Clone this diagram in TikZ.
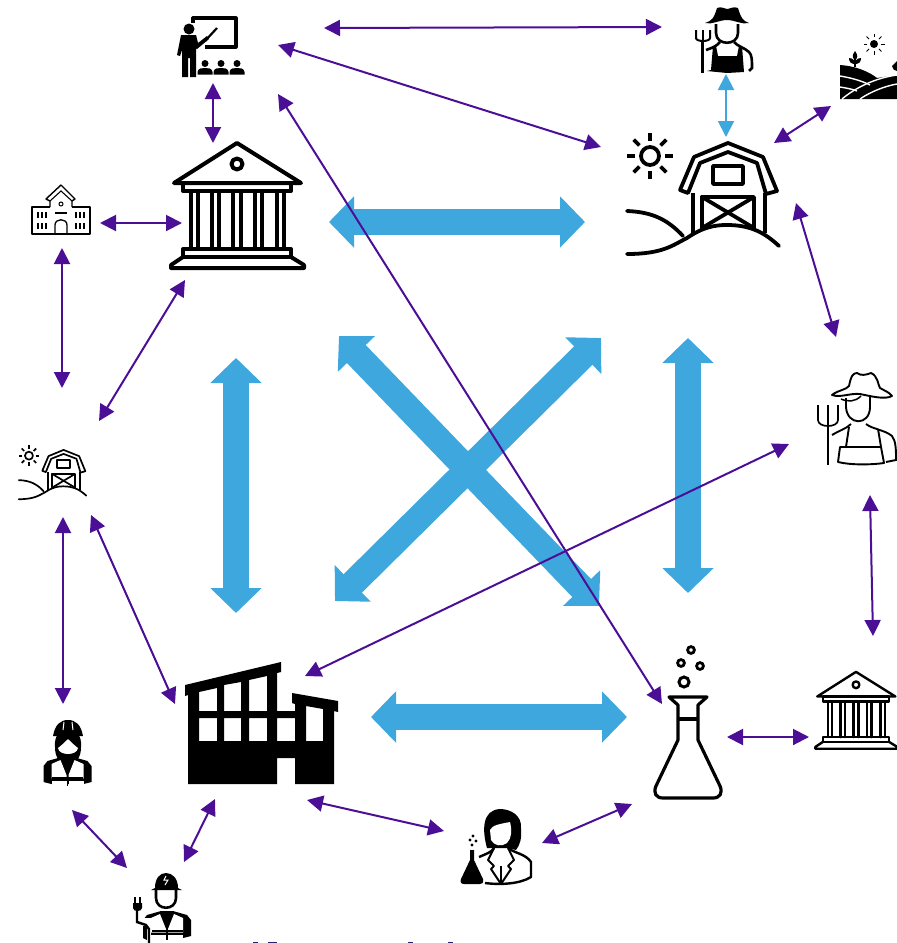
\documentclass[tikz,border=0pt]{standalone}
\usetikzlibrary{arrows.meta,calc}

\definecolor{linkpurple}{HTML}{4B0F96}
\definecolor{linkblue}{HTML}{3EA8DE}
\definecolor{cutnavy}{HTML}{23206E}

\tikzset{
    biglink/.style = {{Triangle[length=25pt,width=50pt]}-{Triangle[length=25pt,width=50pt]}, draw = linkblue, line width = 26pt},
    thinlink/.style = {{Triangle[length=16pt,width=16pt]}-{Triangle[length=16pt,width=16pt]}, draw = linkpurple, line width = 2pt},
    icon/.style = {line join = round, line cap = round},
    pics/temple/.style = {code = {
        \draw[icon] (0,-62) -- (-63,-22) -- (64,-22) -- cycle;
        \draw[icon] (0,-41) circle[radius=5.5];
        \draw[icon] (-54,-22) rectangle (54,-14);
        \foreach \colx in {-46,-39,-25,-18,-4,4,18,25,40,47} {
            \draw[icon] (\colx,-14) -- (\colx,44);
        }
        \draw[icon] (-54,44) rectangle (54,52);
        \draw[icon] (-54,52) -- (-66,60) -- (-66,63) -- (67,63) -- (67,60) -- (54,52);
    }},
    pics/barn/.style = {code = {
        \draw[icon] (-53,-39) circle[radius=9];
        \foreach \rayang in {0,45,...,315} {
            \draw ($(-53,-39)+(\rayang:15)$) -- ($(-53,-39)+(\rayang:23)$);
        }
        \draw[icon] (-23,-5) -- (-9,-38) -- (25,-52) -- (60,-38) -- (74,-4) -- (63,-1) -- (54,-32) -- (25,-43) -- (-3,-32) -- (-15,-2) -- cycle;
        \draw (-10,-2) -- (-10,38);
        \draw (62,-2) -- (62,38);
        \draw[icon] (10,-29) rectangle (40,-11);
        \draw[icon] (-1,2) -- (51,2) -- (51,33);
        \draw[icon] (-1,2) -- (-1,33);
        \draw (-1,2) -- (51,33);
        \draw (51,2) -- (-1,33);
        \draw[icon] (-76,59) .. controls (-40,59) and (-30,50) .. (-16,43) .. controls (0,32) and (12,30) .. (24,30) .. controls (48,30) and (62,38) .. (76,51);
        \draw[icon] (-76,16) .. controls (-50,17) and (-35,25) .. (-20,41);
    }},
    pics/vest/.style = {code = {
        \fill[black] (-6,0) -- (-20,4) -- (-24,9) -- (-24,25) -- (-16,27) -- (16,27) -- (24,25) -- (24,9) -- (20,4) -- (6,0) -- cycle;
        \fill[white] (-16,7) -- (-7,3) -- (-1,18) -- (-1,21.5) -- (-16,21.5) -- cycle;
        \fill[white] (16,7) -- (7,3) -- (1,18) -- (1,21.5) -- (16,21.5) -- cycle;
        \fill[white] (-16,23.5) rectangle (-1,28.5);
        \fill[white] (1,23.5) rectangle (16,28.5);
    }},
}

\begin{document}
\begin{tikzpicture}[x=1pt,y=-1pt]

    \useasboundingbox (0,0) rectangle (897,943);

    % big arrows
    \coordinate (cityE) at (329,222);
    \coordinate (barnW) at (585,222);
    \coordinate (cityS) at (236,358);
    \coordinate (factN) at (236,613);
    \coordinate (barnS) at (688,338);
    \coordinate (labN) at (688,593);
    \coordinate (factE) at (371,717);
    \coordinate (labW) at (627,717);
    \coordinate (crossNW) at (339,336);
    \coordinate (crossSE) at (599,606);
    \coordinate (crossNE) at (601,338);
    \coordinate (crossSW) at (335,601);

    \draw[biglink] (cityE) to (barnW);
    \draw[biglink] (cityS) to (factN);
    \draw[biglink] (barnS) to (labN);
    \draw[biglink] (factE) to (labW);
    \draw[biglink] (crossNW) to (crossSE);
    \draw[biglink] (crossNE) to (crossSW);

    % thin arrows
    \coordinate (teachE) at (324,28);
    \coordinate (darkfarmW) at (662,27);
    \coordinate (teachR) at (278,45);
    \coordinate (barnNW) at (601,147);
    \coordinate (teachSE) at (278,94);
    \coordinate (labNW) at (662,704);
    \coordinate (teachS) at (213,83);
    \coordinate (cityN) at (213,143);
    \coordinate (schoolE) at (100,223);
    \coordinate (cityW) at (182,223);
    \coordinate (schoolS) at (62,248);
    \coordinate (minibarnN) at (62,388);
    \coordinate (citySW) at (185,280);
    \coordinate (minibarnNE) at (99,421);
    \coordinate (minibarnS) at (63,517);
    \coordinate (womanN) at (63,704);
    \coordinate (minibarnSE) at (91,515);
    \coordinate (factW) at (175,704);
    \coordinate (womanS) at (72,810);
    \coordinate (plugW) at (127,868);
    \coordinate (factS) at (215,799);
    \coordinate (plugN) at (184,862);
    \coordinate (factSE) at (307,800);
    \coordinate (chemW) at (444,831);
    \coordinate (chemE) at (542,843);
    \coordinate (labSW) at (632,804);
    \coordinate (labE) at (727,737);
    \coordinate (minicityW) at (809,737);
    \coordinate (farmS) at (870,495);
    \coordinate (minicityN) at (873,636);
    \coordinate (farmW) at (789,444);
    \coordinate (factNE) at (305,676);
    \coordinate (barnE) at (796,203);
    \coordinate (farmN) at (836,337);
    \coordinate (fieldS) at (831,106);
    \coordinate (barnNE) at (774,143);
    \coordinate (darkfarmS) at (726,74);
    \coordinate (barnN) at (726,137);

    \draw[thinlink] (teachE) to (darkfarmW);
    \draw[thinlink] (teachR) to (barnNW);
    \draw[thinlink] (teachSE) to (labNW);
    \draw[thinlink] (teachS) to (cityN);
    \draw[thinlink] (schoolE) to (cityW);
    \draw[thinlink] (schoolS) to (minibarnN);
    \draw[thinlink] (citySW) to (minibarnNE);
    \draw[thinlink] (minibarnS) to (womanN);
    \draw[thinlink] (minibarnSE) to (factW);
    \draw[thinlink] (womanS) to (plugW);
    \draw[thinlink] (factS) to (plugN);
    \draw[thinlink] (factSE) to (chemW);
    \draw[thinlink] (chemE) to (labSW);
    \draw[thinlink] (labE) to (minicityW);
    \draw[thinlink] (farmS) to (minicityN);
    \draw[thinlink] (farmW) to (factNE);
    \draw[thinlink] (barnE) to (farmN);
    \draw[thinlink] (fieldS) to (barnNE);
    \draw[thinlink, draw = linkblue] (darkfarmS) to (barnN);

    % repeated icons
    \pic[line width = 4pt] (city) at (237,205) {temple};
    \pic[line width = 2.4pt, scale = .615] (minicity) at (856,710) {temple};
    \pic[line width = 3.8pt] (bigbarn) at (703,195) {barn};
    \pic[line width = 1.7pt, scale = .444] (minibarn) at (52.5,473) {barn};

    % teacher
    \draw[line width = 3.2pt, line join = round] (193,23) -- (193,18) -- (236,18) -- (236,47) -- (205,47);
    \fill (189,29) circle[radius=5.5];
    \fill (181,35) -- (196,35) -- (198,43) -- (207,36) -- (209,39) -- (197,49) -- (196,48) -- (196,77) -- (190,77) -- (190,58) -- (188,58) -- (188,77) -- (182,77) -- (182,50) -- (180,56) -- (177,55) -- cycle;
    \draw[line width = 2.2pt] (205,41) -- (217,28);
    \foreach \seatx in {205,221,237} {
        \fill (\seatx,63.5) circle[radius=3.5];
        \fill (\seatx-7.5,74.5) -- (\seatx-7.5,72) .. controls (\seatx-7,68) and (\seatx-3,68) .. (\seatx,68) .. controls (\seatx+3,68) and (\seatx+7,68) .. (\seatx+7.5,72) -- (\seatx+7.5,74.5) -- cycle;
    }

    % school
    \draw[line width = 1.4pt, line join = round] (50,207) -- (32,207) -- (32,234) -- (90,234) -- (90,207) -- (72,207);
    \draw[line width = 1.4pt, line join = round] (50,207) -- (50,201) -- (46,199) -- (61,185) -- (75,199) -- (72,201) -- (72,207);
    \draw[line width = 1.1pt] (50,201) -- (61,191) -- (72,201);
    \draw[line width = 1pt] (61,204) circle[radius=2];
    \draw[line width = 1.3pt] (55,213) -- (67,213);
    \draw[line width = 1.3pt] (55,234) -- (55,225) .. controls (55,218) and (67,218) .. (67,225) -- (67,234);
    \foreach \winx in {38,42,46,76,80,84} {
        \draw[line width = 1.1pt] (\winx,212) -- (\winx,218);
        \draw[line width = 1.1pt] (\winx,223) -- (\winx,229);
    }

    % farmer with dark hat
    \fill (705,23) .. controls (712,21) and (714,18) .. (717,8) .. controls (722,6) and (724,9) .. (727,9) .. controls (730,9) and (733,6) .. (738,8) .. controls (741,18) and (743,21) .. (749,23) .. controls (742,25) and (735,20) .. (727,20) .. controls (719,20) and (712,25) .. (705,23) -- cycle;
    \draw[line width = 2.6pt] (716,24) -- (716,33) .. controls (716,46) and (738,46) .. (738,33) -- (738,24);
    \draw[line width = 2.6pt] (706,50) .. controls (712,48) and (717,46) .. (720,42);
    \draw[line width = 2.6pt] (734,42) .. controls (737,46) and (745,48) .. (749,52) .. controls (752,55) and (752,60) .. (752,68) -- (749,71);
    \fill (713,46) -- (716,46) -- (718,56) -- (737,56) -- (739,46) -- (742,46) -- (744,72) -- (727,73) -- (707,71) -- (711,70) -- cycle;
    \draw[line width = 2.4pt] (702.5,40) -- (702.5,73);
    \draw[line width = 2pt] (696,30) -- (696,38) .. controls (696,42) and (710,42) .. (710,38) -- (710,30);
    \draw[line width = 2pt] (703,30) -- (703,41);

    % field
    \fill (874,44) circle[radius=4];
    \foreach \rayang in {0,45,...,315} {
        \draw[line width = 1pt] ($(874,44)+(\rayang:7)$) -- ($(874,44)+(\rayang:10.5)$);
    }
    \fill (840,65) .. controls (855,66) and (868,71) .. (877,78) -- (897,75) -- (897,99) -- (840,99) -- cycle;
    \draw[white, line width = 1.4pt] (840,76) .. controls (852,78) and (862,81) .. (870,85);
    \draw[white, line width = 1.4pt] (840,87) .. controls (846,88) and (852,89) .. (857,91);
    \draw[white, line width = 1.4pt] (842,99) .. controls (855,88) and (875,78) .. (897,75);
    \draw[white, line width = 1.4pt] (860,99) .. controls (870,92) and (885,86) .. (897,84);
    \draw[line width = 1.2pt] (855,67) -- (855,57);
    \fill (855,51) .. controls (858,55) and (858,58) .. (855,60) .. controls (852,58) and (852,55) .. (855,51) -- cycle;
    \fill (849,58) .. controls (854,58) and (855,62) .. (855,64) .. controls (851,64) and (849,62) .. (849,58) -- cycle;
    \fill (861,58) .. controls (856,58) and (855,62) .. (855,64) .. controls (859,64) and (861,62) .. (861,58) -- cycle;
    \fill (897,61) -- (892,66) .. controls (892,69) and (895,71) .. (897,71) -- cycle;

    % farmer with light hat
    \draw[line width = 1.9pt, line join = round] (832,395) .. controls (838,390) and (846,390) .. (849,386) .. controls (851,376) and (853,373) .. (857,373) .. controls (861,376) and (866,375) .. (871,373) .. controls (878,376) and (878,385) .. (880,388) .. controls (885,391) and (889,392) .. (892,396) .. controls (885,400) and (870,396) .. (860,394) .. controls (850,393) and (840,398) .. (832,395) -- cycle;
    \draw[line width = 1.9pt] (846,398) -- (846,407) .. controls (847,426) and (870,426) .. (870,407) -- (870,397);
    \draw[line width = 1.5pt] (841,399) .. controls (848,402) and (855,402) .. (861,396);
    \draw[line width = 1.9pt] (832,435) .. controls (838,431) and (846,429) .. (851,424);
    \draw[line width = 1.9pt] (866,424) .. controls (872,429) and (885,430) .. (892,436) .. controls (896,441) and (896,450) .. (896,460) -- (886,462);
    \draw[line width = 1.9pt] (849,427) -- (846,447);
    \draw[line width = 1.9pt] (878,429) -- (881,447);
    \draw[line width = 1.9pt, line join = round] (846,447) -- (881,447) -- (884,463) .. controls (870,465) and (850,465) .. (838,462) -- (840,447) -- cycle;
    \fill (847,447) circle[radius=1.2];
    \fill (877,447) circle[radius=1.2];
    \draw[line width = 2pt] (828,465) -- (828,405);
    \draw[line width = 1.7pt] (818,405) -- (818,420) .. controls (818,428) and (838,428) .. (838,420) -- (838,405);

    % factory
    \fill[even odd rule] (185,685) -- (281,662) -- (281,672) -- (277,673) -- (277,711) -- (295,711) -- (295,704) -- (292,703) -- (292,693) -- (338,701) -- (338,712) -- (334,711) -- (334,784) -- (295,784) -- (295,758) -- (277,758) -- (277,784) -- (188,784) -- (188,695) -- (185,696) -- cycle
        (199,692) -- (217,688) -- (217,711) -- (199,711) -- cycle
        (224,685) -- (241,682) -- (241,711) -- (224,711) -- cycle
        (249,680) -- (267,676) -- (267,711) -- (249,711) -- cycle
        (199,718) rectangle (217,741)
        (224,718) rectangle (241,741)
        (249,718) rectangle (267,741)
        (277,718) rectangle (295,741)
        (306,706) -- (323,709) -- (323,741) -- (306,741) -- cycle;

    % flask
    \draw[line width = 3.2pt, line join = round] (669,697) -- (707,697) -- (698,705) -- (698,740) -- (720,786) .. controls (723,793) and (720,798) .. (713,798) -- (663,798) .. controls (656,798) and (653,793) .. (656,786) -- (678,740) -- (678,705) -- cycle;
    \draw[line width = 3.2pt] (678,719) -- (698,719);
    \draw[line width = 3pt] (684,682) circle[radius=5];
    \draw[line width = 2.8pt] (681,663) circle[radius=3.4];
    \draw[line width = 2.8pt] (700,666) circle[radius=3.4];
    \draw[line width = 2.8pt] (691,650) circle[radius=3.4];

    % chemist
    \fill (487,848) .. controls (482,830) and (482,810) .. (500,809) .. controls (510,809) and (522,815) .. (521,828) .. controls (522,838) and (520,845) .. (516,850) -- (507,848) -- cycle;
    \fill[white] (490,830) .. controls (492,825) and (500,824) .. (510,822) .. controls (512,830) and (512,838) .. (507,843) .. controls (502,847) and (494,846) .. (491,840) -- cycle;
    \draw[line width = 2.4pt, line join = round] (479,857) .. controls (486,854) and (492,852) .. (494,848);
    \draw[line width = 2.4pt, line join = round] (508,848) .. controls (514,853) and (526,854) .. (531,862) -- (531,877) .. controls (520,884) and (500,885) .. (485,883);
    \draw[line width = 2pt, line join = round] (494,848) -- (488,860) -- (494,866) -- (491,869) -- (501,884) -- (511,869) -- (508,866) -- (514,860) -- (508,848);
    \draw[line width = 1.6pt] (501,866) -- (501,884);
    \fill (470,850) -- (474,850) -- (474,860) -- (483,879) .. controls (484,883) and (482,884) .. (480,884) -- (464,884) .. controls (461,884) and (460,882) .. (461,879) -- (470,860) -- cycle;
    \fill (473,836) circle[radius=1.6] (470,840) circle[radius=1.6] (476,841) circle[radius=1.6] (472,845) circle[radius=1.6];

    % woman with helmet
    \pic (womanvest) at (67.5,757) {vest};
    \fill (55,747) .. controls (54,735) and (60,730) .. (68,730) .. controls (76,730) and (82,735) .. (81,747) .. controls (81,752) and (80,757) .. (77,760) -- (59,760) .. controls (56,757) and (55,752) .. (55,747) -- cycle;
    \fill[white] (58,748) .. controls (62,745) and (66,741) .. (68,739) .. controls (70,741) and (74,745) .. (78,748) .. controls (77,756) and (59,756) .. (58,748) -- cycle;
    \fill (53,736) .. controls (55,725) and (60,720) .. (68,720) .. controls (76,720) and (81,725) .. (83,736) -- cycle;
    \draw[white, line width = 1pt] (64,722) -- (63,730);
    \draw[white, line width = 1pt] (72,722) -- (73,730);
    \draw[line width = 1.4pt] (67.5,778) -- (67.5,786);
    \draw[line width = 1.4pt] (52,778) -- (83,778);

    % worker with plug
    \pic (plugvest) at (167,911) {vest};
    \draw[line width = 2.6pt] (156,888) -- (156,898) .. controls (156,911) and (176,911) .. (176,898) -- (176,888);
    \fill (151,890) -- (155,888) .. controls (155,878) and (160,873) .. (166,873) .. controls (172,873) and (178,878) .. (178,888) -- (182,890) -- (151,890) -- cycle;
    \draw[white, line width = 1pt] (166,876) -- (164,880) -- (168,880) -- (165,885);
    \draw[line width = 1.5pt] (167,932) -- (167,940);
    \draw[line width = 1.5pt] (152,931) -- (183,931);
    \fill[white] (142,918) rectangle (151,943);
    \draw[line width = 2.4pt] (137,908) -- (137,922) -- (146,925) -- (149,929) -- (149,943);
    \fill (133,903) -- (142,903) -- (142,908) .. controls (142,912) and (133,912) .. (133,908) -- cycle;
    \draw[line width = 2pt] (135,897) -- (135,903);
    \draw[line width = 2pt] (140,897) -- (140,903);
    \fill (143,926) -- (147,926) -- (147,940) -- (143,938) -- cycle;

    % what shows of the text cut off at the lower edge
    \fill[cutnavy] (253,941.5) rectangle (258,943);
    \fill[cutnavy] (268,941.5) rectangle (277,943);
    \fill[cutnavy] (408,941.5) rectangle (413,943);
    \fill[cutnavy] (448,941.5) rectangle (453,943);

\end{tikzpicture}
\end{document}
